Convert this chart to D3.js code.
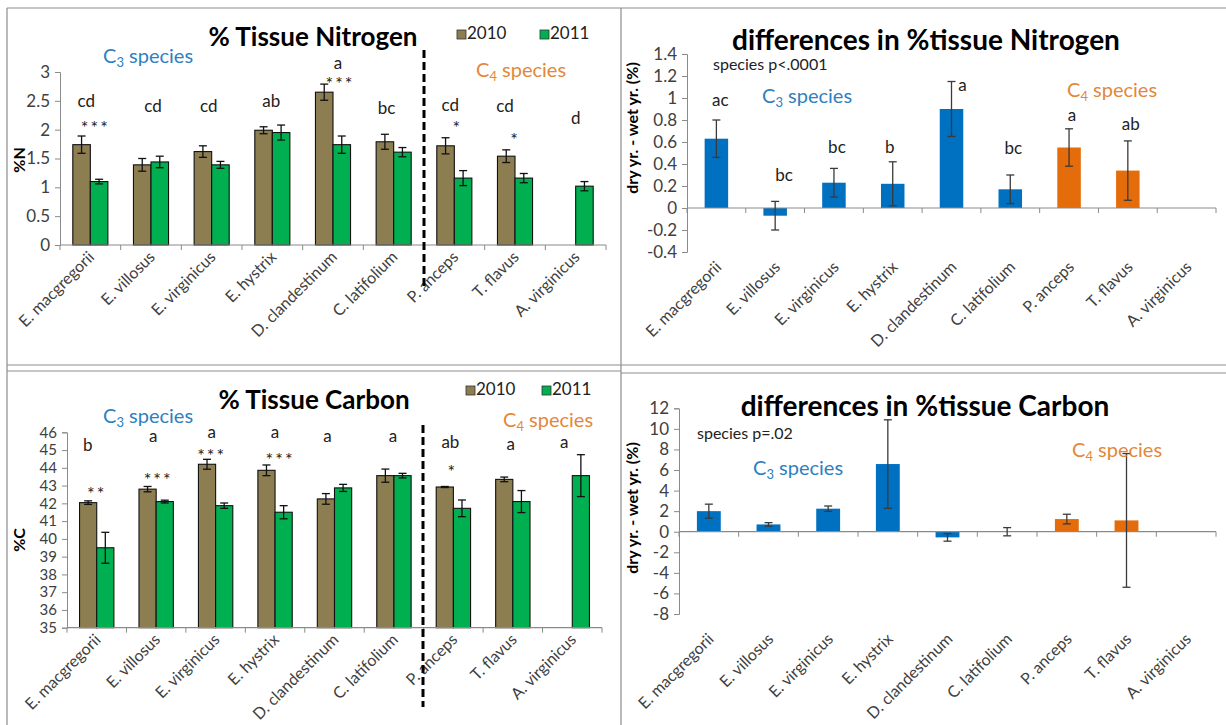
<!DOCTYPE html>
<html><head><meta charset="utf-8">
<script src="https://cdn.jsdelivr.net/npm/d3@7"></script>
<style>body{margin:0;background:#fff} text{font-family:Lato,'Open Sans',sans-serif}</style>
</head><body><svg id="c" width="1226" height="725"></svg>
<script>
// ---------- DATA ----------
const species = ["E. macgregorii","E. villosus","E. virginicus","E. hystrix","D. clandestinum","C. latifolium","P. anceps","T. flavus","A. virginicus"];
const pathway = ["C3","C3","C3","C3","C3","C3","C4","C4","C4"];
const years = ["2010","2011"];

const n2010    = [1.74,1.39,1.62,1.99,2.65,1.79,1.72,1.54,null];
const n2010Err = [0.15,0.11,0.10,0.06,0.14,0.13,0.14,0.11,null];
const n2011    = [1.10,1.44,1.39,1.95,1.74,1.61,1.16,1.16,1.02];
const n2011Err = [0.04,0.10,0.06,0.13,0.15,0.08,0.13,0.08,0.08];
const nLetters = ["cd","cd","cd","ab","a","bc","cd","cd","d"];
const nStars   = ["***","","","","***","","*","*",""];
const nTicks   = [0,0.5,1,1.5,2,2.5,3];

const c2010    = [42.04,42.80,44.20,43.86,42.25,43.56,42.92,43.35,null];
const c2010Err = [0.10,0.15,0.28,0.30,0.30,0.37,0.03,0.13,null];
const c2011    = [39.50,42.10,41.87,41.50,42.87,43.56,41.72,42.10,43.56];
const c2011Err = [0.87,0.08,0.15,0.37,0.20,0.13,0.47,0.62,1.18];
const cLetters = ["b","a","a","a","a","a","ab","a","a"];
const cStars   = ["**","***","***","***","","","*","",""];
const cTicks   = [35,36,37,38,39,40,41,42,43,44,45,46];

const dN       = [0.63,-0.07,0.23,0.22,0.90,0.17,0.55,0.34,null];
const dNErr    = [0.17,0.13,0.13,0.20,0.25,0.13,0.17,0.27,null];
const dNLetters= ["ac","bc","bc","b","a","bc","a","ab",""];
const dNTicks  = [-0.4,-0.2,0,0.2,0.4,0.6,0.8,1,1.2,1.4];

const dC       = [2.00,0.71,2.24,6.58,-0.55,0.00,1.23,1.10,null];
const dCErr    = [0.68,0.17,0.26,4.30,0.37,0.40,0.47,6.50,null];
const dCTicks  = [-8,-6,-4,-2,0,2,4,6,8,10,12];

// ---------- STYLE / LAYOUT ----------
const COL = {y2010:"#8C7E50", y2011:"#00B050", C3:"#0070C0", C4:"#E46C0A",
             C3txt:"#2E80C0", C4txt:"#E3873A", axis:"#8A8A8A", tick:"#404040"};
const svg = d3.select("#c");
svg.append("rect").attr("width",1226).attr("height",725).attr("fill","#fff");

const frame = [[7,8,1226,8],[7,8,7,725],[621,8,621,725],[7,365,1226,365],[7,371,621,371],[621,373,1226,373]];
svg.selectAll("line.frame").data(frame).join("line").attr("class","frame")
  .attr("x1",d=>d[0]).attr("y1",d=>d[1]).attr("x2",d=>d[2]).attr("y2",d=>d[3])
  .attr("stroke","#8c8c8c").attr("stroke-width",1.2);

function speciesLabel(g, x, y, sub, color){
  const t = g.append("text").attr("x",x).attr("y",y).attr("fill",color).attr("font-size",20);
  t.append("tspan").text("C");
  t.append("tspan").text(sub).attr("font-size",13).attr("dy",4);
  t.append("tspan").text(" species").attr("dy",-4);
}

function errBars(g, xc, y, vals, errs, color, cap){
  const d = vals.map((v,i)=>({v, e:errs[i], xc:xc(i)})).filter(d=>d.v!=null);
  const eg = g.append("g").attr("stroke",color).attr("stroke-width",1.3);
  eg.selectAll("line.v").data(d).join("line").attr("x1",d=>d.xc).attr("x2",d=>d.xc)
    .attr("y1",d=>y(d.v-d.e)).attr("y2",d=>y(d.v+d.e));
  eg.selectAll("line.t").data(d).join("line").attr("x1",d=>d.xc-cap).attr("x2",d=>d.xc+cap)
    .attr("y1",d=>y(d.v+d.e)).attr("y2",d=>y(d.v+d.e));
  eg.selectAll("line.b").data(d).join("line").attr("x1",d=>d.xc-cap).attr("x2",d=>d.xc+cap)
    .attr("y1",d=>y(d.v-d.e)).attr("y2",d=>y(d.v-d.e));
}

function yAxis(g, y, x0, ticks, fs){
  const ax = g.append("g").attr("transform",`translate(${x0},0)`)
    .call(d3.axisLeft(y).tickValues(ticks).tickSize(5).tickPadding(5).tickFormat(d=>d));
  ax.select(".domain").attr("stroke",COL.axis);
  ax.selectAll(".tick line").attr("stroke",COL.axis);
  ax.selectAll("text").attr("font-size",fs).attr("fill",COL.tick).attr("font-family","Lato,sans-serif");
}

function xAxisLine(g, x, yPos){
  g.append("line").attr("x1",x.range()[0]).attr("x2",x.range()[1]).attr("y1",yPos).attr("y2",yPos)
    .attr("stroke",COL.axis).attr("stroke-width",1.2);
  const b = species.map(s=>x(s)).concat([x.range()[1]]);
  g.selectAll("line.xt").data(b).join("line").attr("x1",d=>d).attr("x2",d=>d)
    .attr("y1",yPos).attr("y2",yPos+5).attr("stroke",COL.axis);
}

function xLabels(g, x, yPos, dx){
  g.selectAll("text.xl").data(species).join("text")
    .attr("transform",d=>`translate(${x(d)+x.bandwidth()/2+dx},${yPos}) rotate(-45)`)
    .attr("text-anchor","end").attr("font-size",16).attr("fill",COL.tick).text(d=>d);
}

// ---------- grouped bar chart ----------
function grouped(o){
  const g = svg.append("g");
  const x = d3.scaleBand().domain(species).range([o.x0,o.x1]);
  const xs = d3.scaleBand().domain(years).range([0,x.bandwidth()]).paddingOuter(0.73);
  const y = d3.scaleLinear().domain(o.domain).range([o.yB,o.yT]);
  const rows = [];
  years.forEach((yr,k)=>o.vals[k].forEach((v,i)=>{ if(v!=null) rows.push({yr,v,s:species[i]}); }));
  g.selectAll("rect.bar").data(rows).join("rect")
    .attr("x",d=>x(d.s)+xs(d.yr)).attr("width",xs.bandwidth())
    .attr("y",d=>y(d.v)).attr("height",d=>y(o.domain[0])-y(d.v))
    .attr("fill",d=>d.yr==="2010"?COL.y2010:COL.y2011).attr("stroke","#111").attr("stroke-width",1.1);
  years.forEach((yr,k)=>errBars(g, i=>x(species[i])+xs(yr)+xs.bandwidth()/2, y, o.vals[k], o.errs[k], "#111", 4));
  yAxis(g, y, o.x0, o.ticks, o.tickFs);
  xAxisLine(g, x, o.yB);
  xLabels(g, x, o.yB+13, 5);
  g.selectAll("text.let").data(o.letters).join("text")
    .attr("x",(d,i)=>x(species[i])+x.bandwidth()/2+o.letDx[i]).attr("y",(d,i)=>y(o.letY[i]))
    .attr("text-anchor","middle").attr("font-size",17).attr("fill","#222").text(d=>d);
  g.selectAll("text.st").data(o.stars).join("text")
    .attr("x",(d,i)=>x(species[i])+x.bandwidth()/2+o.starDx[i]).attr("y",(d,i)=>y(o.starY[i]))
    .attr("text-anchor","middle").attr("font-size",18).attr("fill","#222").attr("letter-spacing",2).text(d=>d);
  g.append("text").attr("x",o.titleX).attr("y",o.titleY).attr("text-anchor","middle")
    .attr("font-size",26).attr("font-weight","bold").attr("fill","#000").text(o.title);
  years.forEach((yr,k)=>{
    g.append("rect").attr("x",o.legX[k]).attr("y",o.legY-9).attr("width",9).attr("height",9)
      .attr("fill",k?COL.y2011:COL.y2010).attr("stroke","#333").attr("stroke-width",0.8);
    g.append("text").attr("x",o.legX[k]+10).attr("y",o.legY).attr("font-size",17).attr("fill","#222").text(yr);
  });
  g.append("text").attr("transform",`translate(${o.ylabX},${o.ylabY}) rotate(-90)`).attr("text-anchor","middle")
    .attr("font-size",16).attr("font-weight","bold").attr("fill","#000").text(o.ylab);
  g.append("line").attr("x1",o.dashX).attr("x2",o.dashX).attr("y1",o.dashY[0]).attr("y2",o.dashY[1])
    .attr("stroke","#000").attr("stroke-width",3).attr("stroke-dasharray","8,4");
  speciesLabel(g, o.c3[0], o.c3[1], "3", COL.C3txt);
  speciesLabel(g, o.c4[0], o.c4[1], "4", COL.C4txt);
}

// ---------- difference chart ----------
function diff(o){
  const g = svg.append("g");
  const x = d3.scaleBand().domain(species).range([o.x0,o.x1]);
  const y = d3.scaleLinear().domain(o.domain).range([o.yB,o.yT]);
  const bw = x.bandwidth()*0.4;
  const rows = o.vals.map((v,i)=>({v,s:species[i],p:pathway[i]})).filter(d=>d.v!=null);
  g.selectAll("rect.bar").data(rows).join("rect")
    .attr("x",d=>x(d.s)+x.bandwidth()/2-bw/2).attr("width",bw)
    .attr("y",d=>y(Math.max(0,d.v))).attr("height",d=>Math.abs(y(d.v)-y(0)))
    .attr("fill",d=>COL[d.p]);
  yAxis(g, y, o.x0, o.ticks, o.tickFs);
  xAxisLine(g, x, y(0));
  errBars(g, i=>x(species[i])+x.bandwidth()/2, y, o.vals, o.errs, "#3a3a3a", 4);
  xLabels(g, x, o.labY, 6);
  if(o.letters){
    g.selectAll("text.let").data(o.letters).join("text")
      .attr("x",(d,i)=>x(species[i])+x.bandwidth()/2+o.letDx[i]).attr("y",(d,i)=>y(o.letY[i]))
      .attr("text-anchor","middle").attr("font-size",17).attr("fill","#222").text(d=>d);
  }
  g.append("text").attr("x",o.titleX).attr("y",o.titleY).attr("text-anchor","middle")
    .attr("font-size",28).attr("font-weight","bold").attr("fill","#000").text(o.title);
  g.append("text").attr("x",o.pX).attr("y",o.pY).attr("font-size",16).attr("fill","#222").text(o.ptext);
  g.append("text").attr("transform",`translate(${o.ylabX},${o.ylabY}) rotate(-90)`).attr("text-anchor","middle")
    .attr("font-size",16).attr("font-weight","bold").attr("fill","#000").text("dry yr. - wet yr. (%)");
  speciesLabel(g, o.c3[0], o.c3[1], "3", COL.C3txt);
  speciesLabel(g, o.c4[0], o.c4[1], "4", COL.C4txt);
}

grouped({x0:60,x1:606,yB:245,yT:72,domain:[0,3],ticks:nTicks,tickFs:17,
  vals:[n2010,n2011],errs:[n2010Err,n2011Err],
  letters:nLetters,letY:[2.39,2.30,2.30,2.39,3.06,2.27,2.32,2.30,2.10],letDx:[-4,2,-3,-1,5,-7,-4,-10,0],
  stars:nStars,starY:[1.93,0,0,0,2.69,0,1.93,1.72,0],starDx:[5,0,0,0,7,0,3,0,0],
  title:"% Tissue Nitrogen",titleX:313,titleY:46,legX:[457,540],legY:39,
  ylab:"%N",ylabX:25,ylabY:160,dashX:424,dashY:[50,290],c3:[103,63],c4:[476,77]});

grouped({x0:67,x1:602,yB:627.7,yT:432.3,domain:[35,46],ticks:cTicks,tickFs:15,
  vals:[c2010,c2011],errs:[c2010Err,c2011Err],
  letters:cLetters,letY:[44.95,45.46,45.68,45.68,45.46,45.46,45.12,45.0,45.12],letDx:[-9,-3,-4,0,-7,-1,-3,-2,-8],
  stars:cStars,starY:[42.2,43.0,44.3,44.08,0,0,43.4,0,0],starDx:[0,2,-4,5,0,0,-1,0,0],
  title:"% Tissue Carbon",titleX:314,titleY:409,legX:[466,542],legY:395,
  ylab:"%C",ylabX:25,ylabY:540,dashX:423,dashY:[425,707],c3:[103,423],c4:[503,427]});

diff({x0:687,x1:1216,yB:252,yT:54,domain:[-0.4,1.4],ticks:dNTicks,tickFs:17,vals:dN,errs:dNErr,
  letters:dNLetters,letY:[0.93,0.25,0.50,0.50,1.06,0.49,0.79,0.71,0],letDx:[4,9,3,-3,11,3,3,3,0],
  labY:268,title:"differences in %tissue Nitrogen",titleX:926,titleY:50,
  ptext:"species p<.0001",pX:713,pY:70,ylabX:638,ylabY:128,c3:[762,103],c4:[1067,97]});

diff({x0:679,x1:1216,yB:614,yT:408.3,domain:[-8,12],ticks:dCTicks,tickFs:17,vals:dC,errs:dCErr,
  labY:640,title:"differences in %tissue Carbon",titleX:925,titleY:416,
  ptext:"species p=.02",pX:697,pY:439,ylabX:638,ylabY:508,c3:[753,475],c4:[1072,457]});
</script></body></html>
